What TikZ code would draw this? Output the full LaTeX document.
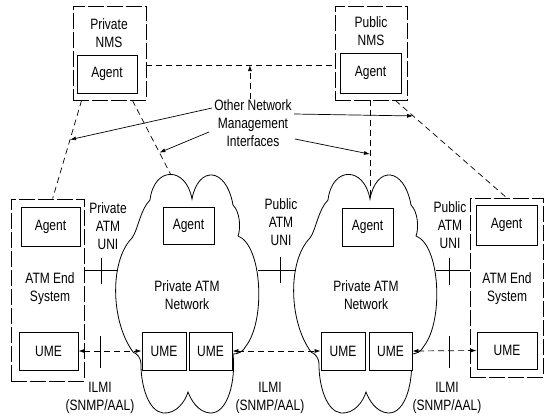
\documentclass[tikz,border=0pt]{standalone}
\usepackage{fontspec}
\setmainfont{Liberation Sans}[FakeStretch=0.8]
\usetikzlibrary{arrows.meta,calc}
\tikzset{
  lbl/.style={font=\fontsize{15}{18}\selectfont, align=center, inner sep=0pt},
  outerbox/.style={draw, line width=0.8pt, dash pattern=on 16pt off 3pt, inner sep=0pt},
  inbox/.style={draw, fill=white, line width=0.8pt, solid, inner sep=0pt, font=\fontsize{15}{18}\selectfont},
  mgmt/.style={line width=0.7pt, dash pattern=on 6pt off 4pt},
  tip/.style={-{Latex[length=6pt,width=4pt]}},
  tips/.style={{Latex[length=6pt,width=4pt]}-{Latex[length=6pt,width=4pt]}},
  cloudline/.style={line width=0.8pt},
  atmcloud/.pic={
    \draw[cloudline] (192,199)
      .. controls (198,166) and (226,166) .. (233,205)
      .. controls (240,212) and (241,228) .. (238,236)
      .. controls (262,245) and (266,320) .. (246,346)
      .. controls (243,352) and (238,354) .. (233,354)
      .. controls (236,380) and (228,414) .. (210,413)
      .. controls (198,412) and (191,400) .. (188,392)
      .. controls (185,402) and (176,414) .. (163,413)
      .. controls (148,411) and (141,385) .. (141,365)
      .. controls (141,357) and (137,354) .. (133,352)
      .. controls (110,320) and (110,260) .. (132,238)
      .. controls (138,230) and (140,210) .. (150,200)
      .. controls (154,166) and (186,166) .. (192,199) -- cycle;
  }
}
\begin{document}
\begin{tikzpicture}[x=1pt,y=-1pt, line width=0.7pt]
\useasboundingbox (0,0) rectangle (548,418);

% clouds
\pic at (0,0) {atmcloud};
\pic at (178,0) {atmcloud};

% NMS boxes
\node[outerbox, minimum width=73pt, minimum height=94pt] (pnms) at (109.5,53) {};
\node[lbl] (pnmst) at (109,33) {Private\\NMS};
\node[inbox, minimum width=60pt, minimum height=38pt] (pnmsag) at (107,74) {Agent};

\node[outerbox, minimum width=72pt, minimum height=94pt] (qnms) at (371,53) {};
\node[lbl] (qnmst) at (371,31) {Public\\NMS};
\node[inbox, minimum width=61pt, minimum height=40pt] (qnmsag) at (370.5,73) {Agent};

% End systems
\node[outerbox, minimum width=73pt, minimum height=182pt] (les) at (47.5,290) {};
\node[inbox, minimum width=59pt, minimum height=39pt] (lesag) at (50.5,226.5) {Agent};
\node[lbl] (lest) at (50,289) {ATM End\\System};
\node[inbox, minimum width=59pt, minimum height=38pt] (lesume) at (48.5,351) {UME};

\node[outerbox, minimum width=73pt, minimum height=179pt] (res) at (506.5,287.5) {};
\node[inbox, minimum width=61pt, minimum height=40pt] (resag) at (506.5,225) {Agent};
\node[lbl] (rest) at (507,289) {ATM End\\System};
\node[inbox, minimum width=60pt, minimum height=37pt] (resume) at (507,350.5) {UME};

% cloud contents
\node[inbox, minimum width=51pt, minimum height=37pt] (lcag) at (188.5,225.5) {Agent};
\node[lbl] (lcnet) at (187,295) {Private ATM\\Network};
\node[inbox, minimum width=44pt, minimum height=38pt] (lume1) at (164,351) {UME};
\node[inbox, minimum width=43pt, minimum height=38pt] (lume2) at (210.5,351) {UME};

\node[inbox, minimum width=51pt, minimum height=38pt] (rcag) at (367.5,227) {Agent};
\node[lbl] (rcnet) at (366,295) {Private ATM\\Network};
\node[inbox, minimum width=44pt, minimum height=38pt] (rume1) at (343,351) {UME};
\node[inbox, minimum width=43pt, minimum height=38pt] (rume2) at (390.5,351) {UME};

% labels
\node[lbl] (oni) at (253,123) {Other Network\\Management\\Interfaces};
\node[lbl] (puni) at (108,226) {Private\\ATM\\UNI};
\node[lbl] (muni) at (281,222) {Public\\ATM\\UNI};
\node[lbl] (runi) at (450,225) {Public\\ATM\\UNI};
\node[lbl] (lilmi) at (100,398) {ILMI\\(SNMP/AAL)};
\node[lbl] (milmi) at (270,398) {ILMI\\(SNMP/AAL)};
\node[lbl] (rilmi) at (447,398) {ILMI\\(SNMP/AAL)};

% cloud boundary points
\coordinate (lcl) at (118,270);
\coordinate (lcr) at (258,270);
\coordinate (rcl) at (296,270);
\coordinate (rcr) at (436,270);
\coordinate (lctop) at (171,175);
\coordinate (rcusp) at (370,199);

% management (dashed) interfaces
\coordinate (nmsl) at ([yshift=-12pt]pnms.east);
\coordinate (nmsr) at ([yshift=-12pt]qnms.west);
\draw[mgmt] (nmsl) -- (nmsr);
\coordinate (d1s) at ([xshift=9pt]pnms.south west);
\coordinate (d1e) at ([xshift=42pt]les.north west);
\draw[mgmt] (d1s) -- (d1e);
\coordinate (d2s) at ([xshift=-14pt]pnms.south east);
\draw[mgmt] (d2s) -- (lctop);
\coordinate (d3s) at (qnms.south -| rcusp);
\draw[mgmt] (d3s) -- (rcusp);
\coordinate (d4s) at ([xshift=-12pt]qnms.south east);
\draw[mgmt] (d4s) -- (res.north);

% label arrows
\coordinate (a0) at ($(nmsl)!0.55!(nmsr)$);
\draw[mgmt, tip] (a0 |- oni.north) -- (a0);
\coordinate (a1) at ($(d1s)!0.40!(d1e)$);
\draw[tip] ([shift={(-2pt,15pt)}]oni.west) -- (a1);
\coordinate (a2) at ($(d2s)!0.70!(lctop)$);
\draw[tip] ([shift={(-5pt,-9pt)}]oni.west) -- (a2);
\coordinate (a3) at ($(d4s)!0.16!(res.north)$);
\draw[tip] ([shift={(2pt,9pt)}]oni.east) -- (a3);
\coordinate (a4) at ($(d3s)!0.545!(rcusp)$);
\draw[tip] ([shift={(3pt,-16pt)}]oni.east) -- (a4);

% UNI links
\draw (les.east |- lcl) -- (lcl);
\draw (lcr) -- (rcl);
\draw (rcr) -- (res.west |- rcr);
\draw (101,258) -- (101,284);
\draw (280,257) -- (280,283);
\draw (449,258) -- (449,285);

% ILMI links
\draw[mgmt, tips] (lesume.east) -- (lume1.west);
\draw[mgmt, tips] (lume2.east) -- (rume1.west);
\draw[mgmt, tips] (rume2.east) -- (resume.west);
\draw (100,336) -- (100,368);
\draw (449,336) -- (449,368);
\end{tikzpicture}
\end{document}
